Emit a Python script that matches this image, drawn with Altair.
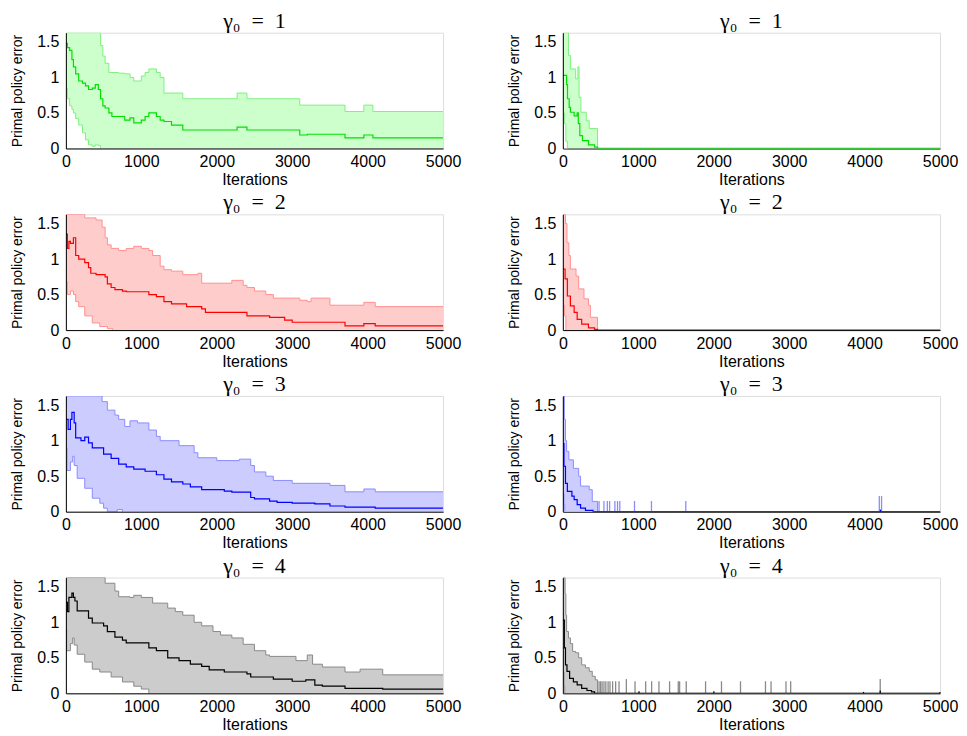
import altair as alt
import pandas as pd

# ---------------- data ----------------
# Left column: gamma0 = 1 (green)
L1_mean_x = [0, 20, 50, 80, 100, 130, 170, 220, 260, 300, 350, 390, 430, 460, 490, 520, 570, 610, 700, 780, 850, 900, 1000, 1050, 1100, 1200, 1250, 1300, 1400, 1550, 2270, 2400, 3100, 3200, 3700, 3950, 4070, 5000]
L1_mean_y = [1.48, 1.42, 1.38, 1.25, 1.15, 1.05, 0.95, 0.92, 0.88, 0.83, 0.85, 0.9, 0.83, 0.7, 0.6, 0.57, 0.5, 0.45, 0.45, 0.4, 0.43, 0.36, 0.4, 0.45, 0.5, 0.45, 0.4, 0.38, 0.33, 0.26, 0.3, 0.26, 0.19, 0.2, 0.15, 0.19, 0.15, 0.15]
L1_hi_x = [0, 460, 490, 520, 570, 700, 780, 850, 900, 1000, 1050, 1100, 1200, 1250, 1300, 1550, 2270, 2400, 3100, 3700, 3950, 4070, 5000]
L1_hi_y = [1.63, 1.45, 1.3, 1.2, 1.07, 1.06, 1.05, 1.0, 0.95, 1.02, 1.07, 1.12, 1.07, 1.0, 0.78, 0.7, 0.78, 0.7, 0.61, 0.52, 0.61, 0.52, 0.52]
L1_lo_x = [0, 20, 50, 80, 100, 130, 170, 220, 260, 300, 350, 390, 430, 460]
L1_lo_y = [0.85, 0.7, 0.6, 0.55, 0.5, 0.42, 0.33, 0.22, 0.12, 0.05, 0.03, 0.05, 0.04, 0.0]

# Left column: gamma0 = 2 (red)
L2_mean_x = [0, 20, 40, 60, 100, 130, 170, 250, 300, 330, 400, 520, 550, 600, 650, 750, 800, 1100, 1200, 1300, 1400, 1600, 1800, 1850, 2400, 2700, 2900, 3000, 3400, 3700, 3950, 4100, 5000]
L2_mean_y = [1.35, 1.15, 1.25, 1.22, 1.3, 1.05, 1.0, 0.95, 0.88, 0.8, 0.78, 0.75, 0.65, 0.6, 0.57, 0.55, 0.54, 0.5, 0.47, 0.4, 0.37, 0.33, 0.3, 0.25, 0.2, 0.18, 0.14, 0.11, 0.11, 0.06, 0.09, 0.06, 0.06]
L2_hi_x = [0, 250, 400, 480, 520, 550, 600, 700, 800, 900, 1000, 1100, 1150, 1250, 1300, 1400, 1550, 1750, 1800, 2200, 2350, 2400, 2500, 2650, 2750, 3100, 3200, 3250, 3500, 3950, 4100, 5000]
L2_hi_y = [1.63, 1.58, 1.55, 1.45, 1.3, 1.2, 1.15, 1.12, 1.15, 1.18, 1.15, 1.12, 1.05, 0.9, 0.85, 0.83, 0.78, 0.8, 0.66, 0.7, 0.63, 0.6, 0.55, 0.5, 0.45, 0.42, 0.4, 0.45, 0.35, 0.39, 0.33, 0.33]
L2_lo_x = [0, 20, 60, 100, 130, 170, 250, 350, 450, 550, 620]
L2_lo_y = [0.68, 0.5, 0.55, 0.5, 0.4, 0.33, 0.2, 0.1, 0.05, 0.02, 0.0]

# Left column: gamma0 = 3 (blue)
L3_mean_x = [0, 30, 60, 80, 110, 130, 200, 250, 300, 350, 450, 500, 600, 700, 800, 900, 1050, 1200, 1300, 1400, 1550, 1650, 1800, 2100, 2200, 2450, 2500, 2700, 2800, 3000, 3300, 3500, 3700, 4100, 5000]
L3_mean_y = [1.3, 1.16, 1.3, 1.4, 1.25, 1.04, 1.0, 1.05, 0.97, 0.9, 0.9, 0.81, 0.75, 0.67, 0.63, 0.6, 0.57, 0.52, 0.46, 0.42, 0.39, 0.35, 0.31, 0.29, 0.275, 0.2, 0.18, 0.15, 0.13, 0.12, 0.11, 0.08, 0.065, 0.05, 0.05]
L3_hi_x = [0, 480, 550, 650, 700, 780, 850, 950, 1100, 1200, 1250, 1500, 1700, 1750, 2000, 2300, 2450, 2500, 2650, 2750, 3000, 3500, 3700, 3950, 4100, 5000]
L3_hi_y = [1.63, 1.55, 1.43, 1.36, 1.3, 1.2, 1.28, 1.25, 1.15, 1.06, 1.0, 0.93, 0.83, 0.76, 0.72, 0.74, 0.65, 0.56, 0.5, 0.44, 0.4, 0.37, 0.28, 0.32, 0.28, 0.28]
L3_lo_x = [0, 15, 60, 90, 110, 150, 250, 350, 450, 500, 550, 680, 750]
L3_lo_y = [0.9, 0.58, 0.7, 0.78, 0.65, 0.47, 0.33, 0.19, 0.12, 0.05, 0.0, 0.03, 0.0]

# Left column: gamma0 = 4 (black)
L4_mean_x = [0, 20, 40, 80, 100, 120, 150, 300, 350, 500, 550, 650, 750, 800, 1100, 1200, 1350, 1500, 1650, 1800, 1900, 2100, 2400, 2450, 2750, 3000, 3180, 3300, 3400, 3700, 4200, 5000]
L4_mean_y = [1.28, 1.15, 1.35, 1.41, 1.35, 1.3, 1.16, 1.06, 0.99, 0.95, 0.87, 0.79, 0.75, 0.71, 0.64, 0.6, 0.5, 0.46, 0.41, 0.38, 0.33, 0.3, 0.275, 0.23, 0.2, 0.17, 0.19, 0.115, 0.1, 0.07, 0.06, 0.06]
L4_hi_x = [0, 520, 650, 700, 850, 900, 1000, 1150, 1350, 1450, 1550, 1700, 1800, 1950, 2050, 2200, 2350, 2500, 2650, 2700, 3050, 3200, 3270, 3400, 3700, 3900, 4200, 5000]
L4_hi_y = [1.63, 1.55, 1.44, 1.36, 1.35, 1.38, 1.35, 1.27, 1.2, 1.15, 1.1, 1.0, 0.95, 0.87, 0.82, 0.78, 0.69, 0.6, 0.54, 0.52, 0.46, 0.54, 0.41, 0.37, 0.3, 0.34, 0.26, 0.26]
L4_lo_x = [0, 10, 60, 90, 110, 150, 250, 350, 450, 600, 750, 900, 1000, 1100]
L4_lo_y = [0.9, 0.6, 0.7, 0.78, 0.68, 0.55, 0.44, 0.34, 0.3, 0.23, 0.16, 0.1, 0.06, 0.0]

# Right column: gamma0 = 1 (green)
R1_mean_x = [0, 50, 62, 84, 100, 150, 190, 205, 225, 260, 340, 420, 460, 5000]
R1_mean_y = [1.03, 0.9, 0.7, 0.58, 0.51, 0.46, 0.5, 0.35, 0.18, 0.11, 0.05, 0.02, 0.0, 0.0]
R1_hi_x = [0, 75, 100, 170, 200, 215, 240, 310, 350, 460, 5000]
R1_hi_y = [1.63, 1.31, 1.12, 0.98, 1.15, 0.72, 0.51, 0.39, 0.28, 0.0, 0.0]
R1_lo_x = [0, 20, 40, 60]
R1_lo_y = [0.5, 0.35, 0.1, 0.0]

# Right column: gamma0 = 2 (red)
R2_mean_x = [0, 30, 60, 100, 150, 190, 250, 340, 420, 460, 5000]
R2_mean_y = [0.86, 0.72, 0.48, 0.34, 0.25, 0.15, 0.085, 0.03, 0.01, 0.0, 0.0]
R2_hi_x = [0, 35, 55, 80, 100, 175, 210, 280, 340, 365, 460, 5000]
R2_hi_y = [1.63, 1.5, 1.23, 1.05, 0.86, 0.76, 0.58, 0.44, 0.35, 0.18, 0.0, 0.0]
R2_lo_x = [0, 20, 40]
R2_lo_y = [0.35, 0.2, 0.0]

# Right column: gamma0 = 3 (blue)
R3_mean_x = [0, 15, 35, 60, 120, 150, 190, 235, 300, 400, 5000]
R3_mean_y = [0.96, 0.64, 0.4, 0.285, 0.22, 0.17, 0.1, 0.05, 0.02, 0.0, 0.0]
R3_hi_x = [0, 20, 35, 50, 80, 140, 210, 235, 350, 390, 460, 5000]
R3_hi_y = [1.63, 1.3, 1.0, 0.85, 0.73, 0.61, 0.5, 0.36, 0.31, 0.145, 0.0, 0.0]
R3_lo_x = [0, 15, 25]
R3_lo_y = [0.25, 0.1, 0.0]
R3_spike_x = [480, 545, 590, 620, 690, 725, 755, 950, 1175, 1630, 4195, 4225]
R3_spike_y = [0.15, 0.15, 0.15, 0.15, 0.15, 0.15, 0.15, 0.15, 0.15, 0.15, 0.22, 0.22]
R3_mspike_x = [4210]
R3_mspike_y = [0.03]

# Right column: gamma0 = 4 (black)
R4_mean_x = [0, 20, 35, 55, 90, 140, 190, 250, 320, 380, 420, 5000]
R4_mean_y = [1.03, 0.64, 0.4, 0.31, 0.21, 0.16, 0.12, 0.07, 0.04, 0.02, 0.0, 0.0]
R4_hi_x = [0, 30, 40, 50, 75, 100, 130, 170, 210, 250, 300, 350, 390, 430, 460, 5000]
R4_hi_y = [1.63, 1.4, 1.1, 0.87, 0.78, 0.7, 0.59, 0.57, 0.5, 0.4, 0.36, 0.31, 0.24, 0.19, 0.0, 0.0]
R4_lo_x = [0, 15, 25]
R4_lo_y = [0.3, 0.1, 0.0]
R4_spike_x = [480, 500, 520, 545, 570, 600, 625, 660, 700, 745, 842, 957, 1098, 1177, 1274, 1415, 1530, 1548, 1636, 1892, 2103, 2355, 2686, 2760, 2958, 3020, 4207]
R4_spike_y = [0.17, 0.17, 0.17, 0.17, 0.17, 0.17, 0.17, 0.17, 0.17, 0.17, 0.2, 0.17, 0.17, 0.17, 0.17, 0.17, 0.17, 0.17, 0.17, 0.17, 0.17, 0.17, 0.17, 0.17, 0.17, 0.17, 0.2]
R4_mspike_x = [1010, 2002, 3986, 4207, 4998]
R4_mspike_y = [0.03, 0.03, 0.02, 0.04, 0.02]

TITLES = ["γ₀\u2002=\u20021", "γ₀\u2002=\u20022", "γ₀\u2002=\u20023", "γ₀\u2002=\u20024"]
LINE_COLORS = ["#00e000", "#ff0000", "#0000ff", "#000000"]
FILL_COLORS = ["#ccffcc", "#ffcccc", "#ccccff", "#cccccc"]
EDGE_COLORS = ["#80f080", "#ff9090", "#8c8cff", "#8a8a8a"]

# ---------------- chart ----------------
W, H = 378, 116
YMAX = 1.63
xs = alt.Scale(domain=[0, 5000], nice=False, zero=False)
ys = alt.Scale(domain=[0, YMAX], nice=False)

AX_FONT = "Liberation Sans"


def xaxis(z):
    return alt.Axis(values=[0, 1000, 2000, 3000, 4000, 5000], format="d", title="Iterations",
                    labelFont=AX_FONT, labelFontSize=16, titleFont=AX_FONT,
                    titleFontSize=16, titleFontWeight="normal", labelColor="black",
                    titleColor="black", domainColor="black", ticks=False,
                    grid=False, labelPadding=5, titlePadding=2, zindex=z,
                    labelFlush=False, labelOverlap=False)


def yaxis():
    return alt.Axis(values=[0, 0.5, 1, 1.5], labelExpr="'' + datum.value",
                    title="Primal policy error",
                    labelFont=AX_FONT, labelFontSize=16, titleFont=AX_FONT,
                    titleFontSize=14, titleFontWeight="normal", labelColor="black",
                    titleColor="black", domainColor="black", ticks=False,
                    grid=False, labelPadding=7, titlePadding=12, zindex=1,
                    labelFlush=False, labelOverlap=False)


def panel(i, right, mx, my, hx, hy, lx, ly, sx=None, sy=None, msx=None, msy=None):
    dm = pd.DataFrame({"x": mx, "y": my})
    dh = pd.DataFrame({"x": hx, "y": hy})
    dl = pd.DataFrame({"x": lx, "y": ly})
    lc, fc, ec = LINE_COLORS[i], FILL_COLORS[i], EDGE_COLORS[i]
    z = 0 if right else 1
    X = alt.X("x:Q", scale=xs, axis=xaxis(z))
    Y = alt.Y("y:Q", scale=ys, axis=yaxis())
    band = alt.Chart(dh).mark_area(interpolate="step-after", color=fc, clip=True).encode(x=X, y=Y)
    white = alt.Chart(dl).mark_area(interpolate="step-after", color="white", clip=True).encode(x=X, y=Y)
    hi_line = alt.Chart(dh).mark_line(interpolate="step-after", color=ec, strokeWidth=1, clip=True).encode(x=X, y=Y)
    lo_line = alt.Chart(dl).mark_line(interpolate="step-after", color=ec, strokeWidth=1, clip=True).encode(x=X, y=Y)
    layers = [band, white, hi_line, lo_line]
    if sx is not None:
        ds = pd.DataFrame({"x": sx, "y": sy, "y0": [0.0] * len(sx)})
        layers.append(alt.Chart(ds).mark_rule(color=ec, strokeWidth=1.3).encode(
            x=X, y=alt.Y("y0:Q", scale=ys, axis=yaxis()), y2="y:Q"))
    mean = alt.Chart(dm).mark_line(interpolate="step-after", color=lc, strokeWidth=1.2, clip=True).encode(x=X, y=Y)
    layers.append(mean)
    if msx is not None:
        dms = pd.DataFrame({"x": msx, "y": msy, "y0": [0.0] * len(msx)})
        layers.append(alt.Chart(dms).mark_rule(color=lc, strokeWidth=1.2).encode(
            x=X, y=alt.Y("y0:Q", scale=ys, axis=yaxis()), y2="y:Q"))
    return alt.layer(*layers).properties(
        width=W, height=H,
        title=alt.TitleParams(text=TITLES[i], font="Liberation Serif", fontSize=22,
                              fontWeight="normal", color="black", anchor="middle",
                              frame="group", offset=0))


SP = 45
rows = [
    alt.hconcat(panel(0, False, L1_mean_x, L1_mean_y, L1_hi_x, L1_hi_y, L1_lo_x, L1_lo_y),
                panel(0, True, R1_mean_x, R1_mean_y, R1_hi_x, R1_hi_y, R1_lo_x, R1_lo_y), spacing=SP),
    alt.hconcat(panel(1, False, L2_mean_x, L2_mean_y, L2_hi_x, L2_hi_y, L2_lo_x, L2_lo_y),
                panel(1, True, R2_mean_x, R2_mean_y, R2_hi_x, R2_hi_y, R2_lo_x, R2_lo_y), spacing=SP),
    alt.hconcat(panel(2, False, L3_mean_x, L3_mean_y, L3_hi_x, L3_hi_y, L3_lo_x, L3_lo_y),
                panel(2, True, R3_mean_x, R3_mean_y, R3_hi_x, R3_hi_y, R3_lo_x, R3_lo_y,
                      R3_spike_x, R3_spike_y, R3_mspike_x, R3_mspike_y), spacing=SP),
    alt.hconcat(panel(3, False, L4_mean_x, L4_mean_y, L4_hi_x, L4_hi_y, L4_lo_x, L4_lo_y),
                panel(3, True, R4_mean_x, R4_mean_y, R4_hi_x, R4_hi_y, R4_lo_x, R4_lo_y,
                      R4_spike_x, R4_spike_y, R4_mspike_x, R4_mspike_y), spacing=SP),
]

chart = alt.vconcat(*rows, spacing=2).properties(
    padding={"left": 2, "top": 0, "right": 0, "bottom": 0}
).configure_view(stroke=None).configure(background="white")

chart.save("out.html", embed_options={"renderer": "svg", "actions": False})
